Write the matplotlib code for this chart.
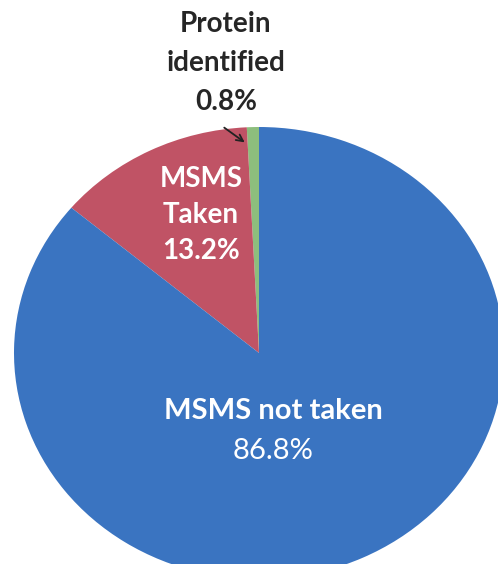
import matplotlib.pyplot as plt
from matplotlib.transforms import Affine2D

# Anteile der Spektren (in %)
labels = ['Protein identified', 'MSMS Taken', 'MSMS not taken']
values = [0.8, 13.2, 86.8]
colors = ['#8DBE7D', '#C05365', '#3A74C1']

fig = plt.figure(figsize=(4.98, 5.64), dpi=100)
ax = fig.add_axes([0, 0, 1, 1])

wedges, _ = ax.pie(values, colors=colors, startangle=90, counterclock=True,
                   wedgeprops=dict(linewidth=0))

# Kreis leicht elliptisch verzerren und in Pixelkoordinaten verschieben
cx, cy, rx, ry = 259, 353, 245, 226
for w in wedges:
    w.set_transform(Affine2D().scale(rx, -ry).translate(cx, cy) + ax.transData)

ax.set_aspect('auto')
ax.set_xlim(0, 498)
ax.set_ylim(564, 0)
ax.axis('off')

font = 'Lato'

def pct(v):
    return f'{v:.1f}%'

# Beschriftung der kleinen Scheibe oberhalb mit Pfeil
ax.text(226, 32, 'Protein', ha='center', va='baseline', fontsize=20,
        fontweight='bold', color='#262626', family=font)
ax.text(226, 71, 'identified', ha='center', va='baseline', fontsize=20,
        fontweight='bold', color='#262626', family=font)
ax.text(226, 110, pct(values[0]), ha='center', va='baseline', fontsize=20,
        fontweight='bold', color='#262626', family=font)
ax.annotate('', xy=(247, 144), xytext=(222, 126),
            arrowprops=dict(arrowstyle='->', color='#222222', lw=1.3,
                            mutation_scale=12))

# MSMS Taken
ax.text(201, 187, 'MSMS', ha='center', va='baseline', fontsize=20,
        fontweight='bold', color='white', family=font)
ax.text(201, 223, 'Taken', ha='center', va='baseline', fontsize=20,
        fontweight='bold', color='white', family=font)
ax.text(201, 259, pct(values[1]), ha='center', va='baseline', fontsize=20,
        fontweight='bold', color='white', family=font)

# MSMS not taken
ax.text(273, 419, 'MSMS not taken', ha='center', va='baseline', fontsize=21,
        fontweight='bold', color='white', family=font)
ax.text(273, 459, pct(values[2]), ha='center', va='baseline', fontsize=21,
        color='white', family=font)

fig.savefig('out.png', dpi=100)
